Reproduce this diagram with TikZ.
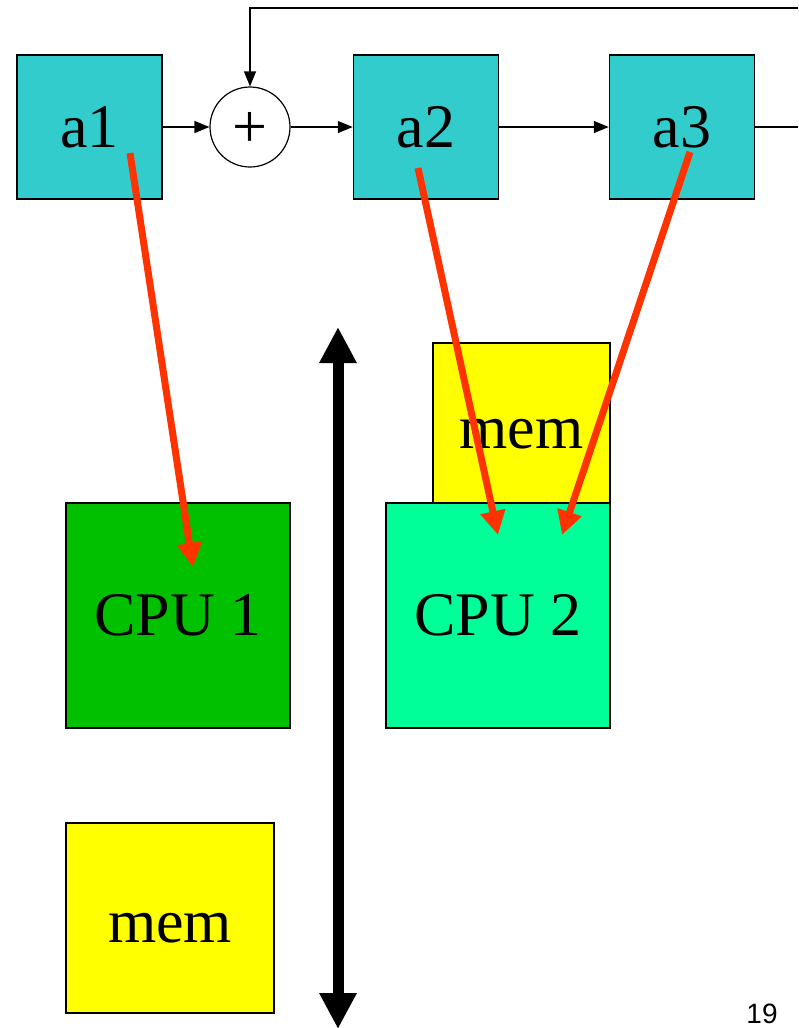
\documentclass[tikz,border=0pt]{standalone}
\usepackage{fontspec}
\setmainfont{Liberation Serif}
\usetikzlibrary{arrows.meta}
\definecolor{boxcyan}{HTML}{33CCCC}
\definecolor{cpuone}{HTML}{00C000}
\definecolor{cputwo}{HTML}{00FF99}
\definecolor{memyel}{HTML}{FFFF00}
\definecolor{redarr}{HTML}{FF3300}
\tikzset{
  bigtext/.style={font=\fontsize{62}{70}\selectfont},
  blockbox/.style={draw=black, line width=1.5pt, inner sep=0pt, bigtext},
  abox/.style={blockbox, fill=boxcyan, minimum width=145pt, minimum height=144pt},
  cpubox/.style={blockbox, minimum width=224pt, minimum height=225pt},
  membox/.style={blockbox, fill=memyel},
  sig/.style={line width=1.2pt, -{Triangle[length=15pt,width=12pt]}},
  wire/.style={line width=1.2pt},
  mapping/.style={draw=redarr, line width=7pt, -{Triangle[length=24pt,width=24pt]}},
  busarrow/.style={line width=11pt, {Triangle[length=36pt,width=35pt]}-{Triangle[length=36pt,width=35pt]}}
}
\begin{document}
\begin{tikzpicture}[x=1pt,y=-1pt]
\useasboundingbox (0,0) rectangle (798,1028);
% top chain
\node[abox] (a1) at (89.5,127) {a1};
\node[draw, circle, line width=1.2pt, minimum size=80pt, inner sep=0pt] (plus) at (250,127) {};
\node[bigtext, inner sep=0pt] (plussign) at (250,129.5) {+};
\node[abox] (a2) at (426,127) {a2};
\node[abox] (a3) at (682,127) {a3};
\coordinate (fbR) at (798,127);
\coordinate (fbTR) at (798,8);
\coordinate (fbTL) at (250,8);
\draw[sig] (a1) -- (plus);
\draw[sig] (plus) -- (a2);
\draw[sig] (a2) -- (a3);
\draw[wire] (a3) -- (fbR);
\draw[sig] (fbTR) -- (fbTL) -- (plus);
% processors and memories
\node[membox, minimum width=177pt, minimum height=160pt] (memtop) at (521.5,423) {};
\node[bigtext] (memtoplabel) at (521.5,434) {mem};
\node[cpubox, fill=cpuone] (cpu1) at (178,615.5) {CPU 1};
\node[cpubox, fill=cputwo] (cpu2) at (498,615.5) {CPU 2};
\node[membox, minimum width=208pt, minimum height=190pt] (membot) at (170,918) {};
\node[bigtext] (membotlabel) at (170,928) {mem};
% bus arrow
\coordinate (busT) at (338,327);
\coordinate (busB) at (338,1029);
\draw[busarrow] (busT) -- (busB);
% mapping arrows
\coordinate (s1) at (130,153);
\coordinate (t1) at (193,567);
\coordinate (s2) at (418,168);
\coordinate (t2) at (498,535);
\coordinate (s3) at (690,152);
\coordinate (t3) at (562,535);
\draw[mapping] (s1) -- (t1);
\draw[mapping] (s2) -- (t2);
\draw[mapping] (s3) -- (t3);
% page number
\node[font=\fontspec{Liberation Sans}\fontsize{28}{30}\selectfont, anchor=base, inner sep=0pt] (pgno) at (762,1023) {19};
\end{tikzpicture}
\end{document}
